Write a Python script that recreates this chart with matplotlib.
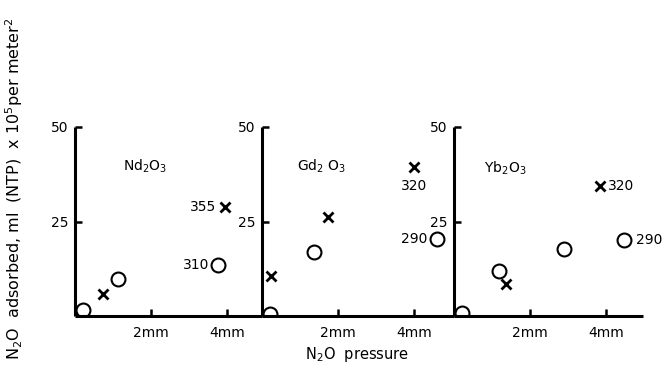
import matplotlib
matplotlib.use("Agg")
import matplotlib.pyplot as plt

plt.rcParams['font.family'] = ['DejaVu Sans']
plt.rcParams['mathtext.default'] = 'regular'

# --- data (pressure in mm, amount x10^5 ml/m^2) ---
panel_names = ["Nd$_2$O$_3$", "Gd$_2$ O$_3$", "Yb$_2$O$_3$"]

nd_circle_x = [0.2, 1.14, 3.76]
nd_circle_y = [1.6, 9.7, 13.4]
nd_cross_x = [0.74, 3.95]
nd_cross_y = [5.8, 28.8]

gd_circle_x = [0.2, 1.38, 4.6]
gd_circle_y = [0.6, 16.8, 20.4]
gd_cross_x = [0.23, 1.74, 4.0]
gd_cross_y = [10.7, 26.2, 39.5]

yb_circle_x = [0.2, 1.19, 2.89, 4.48]
yb_circle_y = [0.8, 11.8, 17.8, 20.2]
yb_cross_x = [1.38, 3.84]
yb_cross_y = [8.4, 34.3]

# temperature labels: (panel, x, y, text, dx px, dy px, ha)
temp_labels = [
    (0, 3.95, 28.8, "355", -9, 0, "right"),
    (0, 3.76, 13.4, "310", -9, 0, "right"),
    (1, 4.0, 39.5, "320", 0, -19, "center"),
    (1, 4.6, 20.4, "290", -9, 0, "right"),
    (2, 3.84, 34.3, "320", 8, 0, "left"),
    (2, 4.48, 20.2, "290", 12, 0, "left"),
]

yticks = [25, 50]
xticks = [2, 4]
xtick_labels = ["2mm", "4mm"]

W, H = 667, 372
fig = plt.figure(figsize=(W / 100, H / 100), dpi=100)

px_per_mm = 38.0
y0_px, y50_px = 316, 127
lefts = [75, 262, 454]
rights = [262, 454, 643]
title_pos = [(1.84, 39.5), (1.58, 39.5), (1.34, 39.0)]

series = [
    (nd_circle_x, nd_circle_y, nd_cross_x, nd_cross_y),
    (gd_circle_x, gd_circle_y, gd_cross_x, gd_cross_y),
    (yb_circle_x, yb_circle_y, yb_cross_x, yb_cross_y),
]

axes = []
for i in range(3):
    l, r = lefts[i], rights[i]
    ax = fig.add_axes([l / W, 1 - y0_px / H, (r - l) / W, (y0_px - y50_px) / H])
    ax.set_xlim(0, (r - l) / px_per_mm)
    ax.set_ylim(0, 50)
    ax.patch.set_alpha(0)
    for s in ["top", "right"]:
        ax.spines[s].set_visible(False)
    for s in ["left", "bottom"]:
        ax.spines[s].set_linewidth(2.2)
        ax.spines[s].set_capstyle("butt")
    ax.set_yticks(yticks)
    ax.set_yticklabels([str(t) for t in yticks], fontsize=10)
    ax.set_xticks(xticks)
    ax.set_xticklabels(xtick_labels, fontsize=10)
    ax.tick_params(direction="in", length=5, width=1.8, pad=5)
    ax.tick_params(axis="x", pad=7)

    cx, cy, kx, ky = series[i]
    ax.plot(cx, cy, "o", ms=10, mfc="none", mec="black", mew=1.5)
    ax.plot(kx, ky, "x", ms=6.5, mec="black", mew=2.0)
    tx, ty = title_pos[i]
    ax.text(tx, ty, panel_names[i], fontsize=10, ha="center", va="center")
    axes.append(ax)

for p, x, y, t, dx, dy, ha in temp_labels:
    axes[p].annotate(t, (x, y), xytext=(dx, dy), textcoords="offset pixels",
                     ha=ha, va="center", fontsize=10)

fig.text(0.021, 0.492, "N$_2$O  adsorbed, ml  (NTP)  x 10$^5$per meter$^2$",
         rotation=90, ha="center", va="center", fontsize=11.5)
fig.text(0.535, 0.046, "N$_2$O  pressure", ha="center", va="center", fontsize=10.5)

fig.savefig("out.png", dpi=100)
